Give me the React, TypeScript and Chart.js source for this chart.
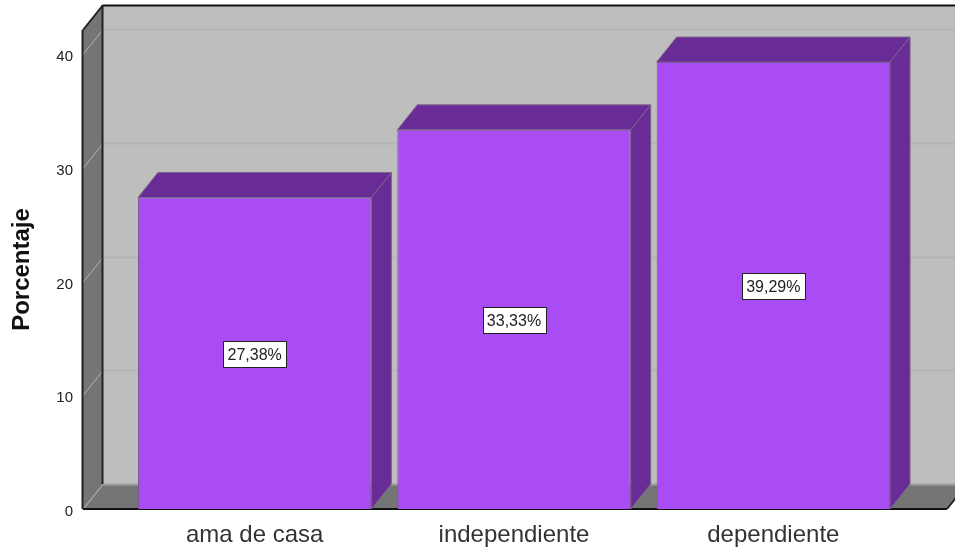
import React, { useEffect, useRef } from "react";
import { Chart, registerables } from "chart.js";

Chart.register(...registerables);

const categories = ["ama de casa", "independiente", "dependiente"];
const percentages = [27.38, 33.33, 39.29];
const pointLabels = ["27,38%", "33,33%", "39,29%"];
const yTicks = [0, 10, 20, 30, 40];
const yAxisTitle = "Porcentaje";

const FONT = "'Liberation Sans', Arial, sans-serif";
const DX = 20;
const DY = -25;
const WALL = "#bebebe";
const SHADE = "#757575";
const FRONT = "#a94cf4";
const SIDE = "#692b95";

const scene3d = {
  id: "scene3d",
  beforeDatasetsDraw(chart: any) {
    const { ctx, scales } = chart;
    const y = scales.y;
    const top = y.top;
    const base = y.bottom;
    const left = 83;
    const right = 947;
    const poly = (pts: number[][], fill: string, stroke?: string) => {
      ctx.beginPath();
      pts.forEach((p, i) => (i ? ctx.lineTo(p[0], p[1]) : ctx.moveTo(p[0], p[1])));
      ctx.closePath();
      ctx.fillStyle = fill;
      ctx.fill();
      if (stroke) {
        ctx.strokeStyle = stroke;
        ctx.lineWidth = 1;
        ctx.stroke();
      }
    };
    const line = (x1: number, y1: number, x2: number, y2: number, c: string, w = 1) => {
      ctx.beginPath();
      ctx.moveTo(x1, y1);
      ctx.lineTo(x2, y2);
      ctx.strokeStyle = c;
      ctx.lineWidth = w;
      ctx.stroke();
    };
    ctx.save();
    poly([[left + DX, top + DY], [right + DX, top + DY], [right + DX, base + DY], [left + DX, base + DY]], WALL);
    poly([[left, top], [left + DX, top + DY], [left + DX, base + DY], [left, base]], SHADE);
    poly([[left, base], [left + DX, base + DY], [right + DX, base + DY], [right, base]], SHADE);
    line(left + DX, base + DY + 0.5, right + DX, base + DY + 0.5, "#a0a0a0", 2);
    yTicks.forEach((t) => {
      const py = Math.round(y.getPixelForValue(t)) + 0.5;
      if (t > 0) line(left + DX, py + DY, right + DX, py + DY, "#b4b4b4", 2);
      line(left, py, left + DX, py + DY, "#b4b4b4", 1);
    });
    line(left + DX, top + DY + 0.5, right + DX, top + DY + 0.5, "#111", 2);
    line(left + DX - 0.5, top + DY, left + DX - 0.5, base + DY, "#222", 2);
    line(left, top, left + DX, top + DY, "#222", 2);
    line(left - 0.5, top, left - 0.5, base, "#222", 2);
    line(left, base, right, base, "#111", 2);
    line(right, base, right + DX, base + DY, "#222", 2);

    const bars = chart.getDatasetMeta(0).data;
    bars.forEach((b: any) => {
      const l = b.x - b.width / 2;
      const r = b.x + b.width / 2;
      const t = b.y;
      const bt = b.base;
      poly([[l, t], [l + DX, t + DY], [r + DX, t + DY], [r, t]], SIDE, "#7a668a");
      poly([[r, t], [r + DX, t + DY], [r + DX, bt + DY], [r, bt]], SIDE, "#7a668a");
    });
    ctx.restore();
  },
  afterDatasetsDraw(chart: any) {
    const { ctx } = chart;
    const bars = chart.getDatasetMeta(0).data;
    ctx.save();
    ctx.font = `16px ${FONT}`;
    ctx.textAlign = "center";
    ctx.textBaseline = "middle";
    bars.forEach((b: any, i: number) => {
      const cy = (b.y + b.base) / 2;
      const w = 63;
      const h = 26;
      const bx = Math.round(b.x - w / 2) + 0.5;
      const by = Math.ceil(cy - h / 2) + 0.5;
      ctx.fillStyle = "#fff";
      ctx.fillRect(bx, by, w, h);
      ctx.strokeStyle = "#222";
      ctx.lineWidth = 1;
      ctx.strokeRect(bx, by, w, h);
      ctx.fillStyle = "#222";
      ctx.fillText(pointLabels[i], b.x, by + h / 2 + 1);
    });
    ctx.restore();
  },
};

export default function App() {
  const ref = useRef<HTMLCanvasElement>(null);
  useEffect(() => {
    document.body.style.margin = "0";
    const chart = new Chart(ref.current!, {
      type: "bar",
      data: {
        labels: categories,
        datasets: [
          {
            data: percentages,
            backgroundColor: FRONT,
            borderColor: "#7a5a96",
            borderWidth: 1,
            barPercentage: 0.9,
            categoryPercentage: 1,
          },
        ],
      },
      plugins: [scene3d],
      options: {
        animation: false,
        responsive: false,
        layout: { padding: { top: 30, right: 52, left: 0, bottom: 0 } },
        plugins: { legend: { display: false }, tooltip: { enabled: false }, title: { display: false } },
        scales: {
          x: {
            offset: true,
            grid: { display: false, drawTicks: false },
            border: { display: false },
            ticks: { color: "#333", font: { family: FONT, size: 24 }, padding: 12, maxRotation: 0 },
            afterFit(s: any) {
              s.height = 41;
              s.paddingLeft = 0;
              s.paddingRight = 0;
            },
          },
          y: {
            min: 0,
            max: 42.11,
            grid: { display: false, drawTicks: false },
            border: { display: false },
            title: {
              display: true,
              text: yAxisTitle,
              color: "#111",
              font: { family: FONT, size: 24, weight: "bold" },
              padding: { top: 8, bottom: 0 },
            },
            ticks: { color: "#222", font: { family: FONT, size: 15 }, padding: 52, stepSize: 10, labelOffset: 3 },
            afterBuildTicks(s: any) {
              s.ticks = yTicks.map((value) => ({ value }));
            },
            afterFit(s: any) {
              s.width = 125;
              s.paddingTop = 0;
              s.paddingBottom = 0;
            },
          },
        },
      },
    } as any);
    return () => chart.destroy();
  }, []);
  return <canvas ref={ref} width={955} height={550} style={{ display: "block" }} />;
}
